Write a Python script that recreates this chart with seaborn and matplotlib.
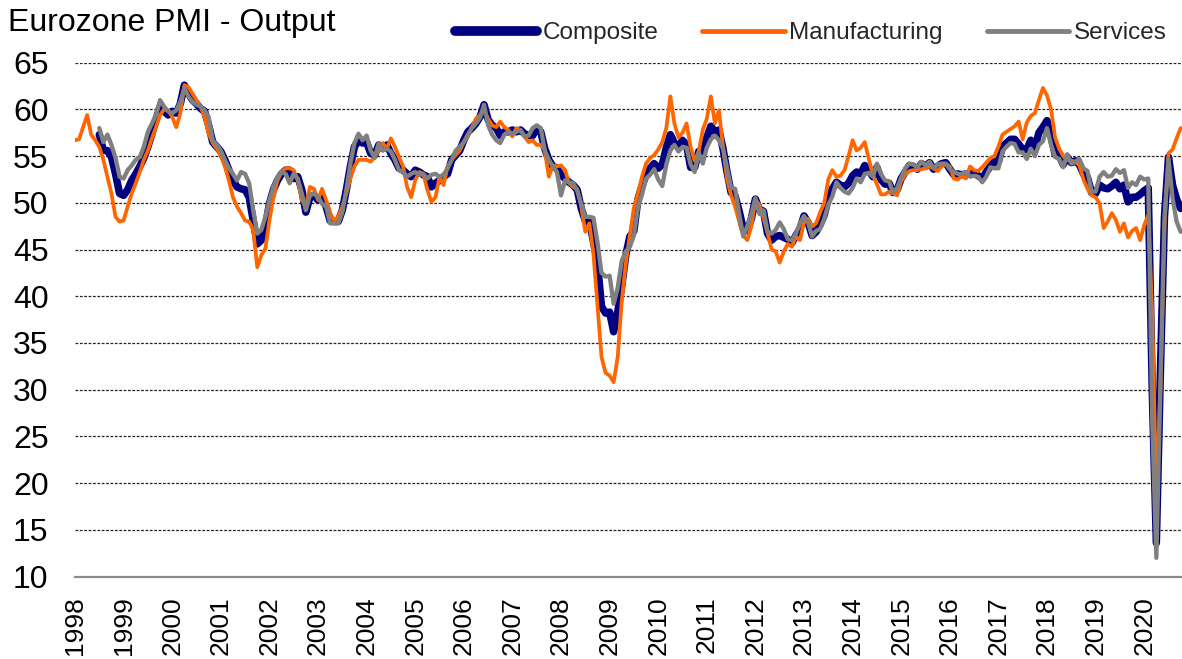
import matplotlib
matplotlib.use("Agg")
import matplotlib.pyplot as plt
from matplotlib.lines import Line2D
import pandas as pd
import seaborn as sns

# ---------------- data (monthly index values) ----------------
# Manufacturing output: Jan 1998 - Oct 2020
manufacturing = [
    56.7, 56.8, 58.1, 59.4, 57.3, 56.7, 56.0, 54.6, 52.8, 51.0, 48.5, 48.0,  # 1998
    48.1, 49.6, 51.0, 52.1, 53.3, 54.6, 55.6, 56.9, 58.1, 59.4, 60.0, 59.9,  # 1999
    59.2, 58.1, 59.6, 62.6, 62.4, 61.7, 61.0, 60.3, 59.2, 57.4, 56.4, 55.8,  # 2000
    55.1, 53.9, 52.4, 50.6, 49.6, 48.9, 48.1, 48.0, 47.1, 43.1, 44.4, 45.1,  # 2001
    48.1, 50.6, 52.4, 53.3, 53.7, 53.7, 53.5, 52.4, 50.3, 49.6, 51.7, 51.5,  # 2002
    50.3, 51.5, 50.3, 48.9, 48.1, 48.5, 49.6, 51.0, 52.6, 53.9, 54.6, 54.6,  # 2003
    54.6, 54.4, 54.9, 55.6, 56.4, 55.8, 56.9, 56.0, 54.9, 53.9, 51.7, 50.6,  # 2004
    52.4, 53.3, 53.1, 51.4, 50.1, 50.6, 52.8, 51.9, 53.9, 54.6, 55.1, 55.6,  # 2005
    56.5, 57.1, 58.1, 59.0, 59.4, 59.9, 59.0, 58.3, 58.1, 58.7, 58.1, 57.8,  # 2006
    57.1, 58.0, 57.8, 57.1, 56.5, 56.7, 56.2, 56.2, 55.6, 52.8, 54.0, 53.9,  # 2007
    54.0, 53.5, 52.1, 51.7, 51.5, 49.6, 46.9, 47.8, 44.6, 39.0, 33.5, 31.8,  # 2008
    31.5, 30.8, 33.5, 39.5, 43.5, 46.5, 49.5, 51.0, 52.8, 54.2, 54.8, 55.1,  # 2009
    55.7, 56.5, 58.0, 61.4, 58.5, 57.0, 57.5, 58.5, 56.0, 54.5, 55.5, 57.8,  # 2010
    59.0, 61.4, 58.5, 59.9, 56.0, 52.5, 50.8, 49.6, 48.0, 46.5, 46.0, 47.5,  # 2011
    50.3, 49.8, 48.4, 46.8, 45.0, 44.8, 43.6, 44.8, 45.6, 45.3, 46.4, 46.0,  # 2012
    47.9, 48.3, 47.5, 47.8, 49.0, 50.0, 52.5, 53.5, 52.8, 52.9, 53.5, 55.0,  # 2013
    56.7, 55.6, 55.9, 56.5, 54.7, 53.0, 52.0, 50.9, 50.9, 51.2, 51.0, 50.8,  # 2014
    52.3, 53.0, 53.4, 53.5, 53.5, 53.6, 53.7, 53.9, 53.7, 53.4, 53.9, 54.2,  # 2015
    53.9, 52.6, 52.5, 52.9, 52.6, 53.9, 53.5, 53.4, 53.8, 54.3, 54.8, 55.0,  # 2016
    56.0, 57.3, 57.6, 57.9, 58.2, 58.7, 56.8, 58.6, 59.3, 59.6, 61.0, 62.3,  # 2017
    61.5, 60.0, 57.0, 55.8, 55.0, 54.6, 54.5, 54.4, 54.0, 52.5, 51.5, 50.8,  # 2018
    50.6, 49.9, 47.3, 48.0, 48.9, 48.2, 46.9, 47.8, 46.3, 47.0, 47.3, 46.0,  # 2019
    47.6, 48.7, 38.0, 18.1, 30.0, 47.5, 55.3, 55.7, 56.9, 58.0,              # 2020
]

# Composite output: Jul 1998 - Oct 2020
composite = [
    57.3, 55.6, 55.6, 54.9, 53.1, 51.0,                                      # 1998 H2
    50.8, 51.4, 52.4, 53.1, 53.9, 54.8, 56.0, 57.4, 58.9, 60.3, 59.8, 59.4,  # 1999
    59.8, 59.6, 60.6, 62.6, 61.7, 61.0, 60.6, 60.1, 59.8, 58.3, 56.5, 56.0,  # 2000
    55.5, 54.6, 53.5, 52.4, 51.7, 51.5, 51.4, 50.6, 48.1, 45.6, 46.0, 47.4,  # 2001
    49.9, 51.4, 52.4, 53.1, 53.5, 53.5, 52.6, 52.8, 51.4, 49.0, 50.6, 50.8,  # 2002
    50.3, 50.5, 49.6, 48.1, 48.0, 48.0, 49.2, 51.4, 53.9, 56.0, 56.7, 56.4,  # 2003
    56.5, 55.3, 55.1, 56.2, 55.8, 56.2, 55.3, 54.6, 53.7, 53.5, 53.1, 52.8,  # 2004
    53.5, 53.3, 53.0, 52.8, 51.7, 52.1, 52.4, 52.8, 53.1, 54.6, 55.1, 55.6,  # 2005
    56.7, 57.6, 58.0, 58.5, 59.2, 60.5, 58.9, 58.3, 58.0, 57.2, 57.6, 57.6,  # 2006
    57.8, 57.6, 57.8, 57.4, 57.2, 57.2, 58.0, 57.6, 55.8, 54.6, 53.9, 53.7,  # 2007
    53.0, 52.6, 52.2, 51.9, 51.4, 49.4, 48.1, 48.0, 45.9, 43.6, 38.9, 38.2,  # 2008
    38.3, 36.2, 38.3, 41.1, 44.4, 46.4, 47.0, 50.4, 51.8, 53.0, 53.7, 54.2,  # 2009
    53.7, 54.1, 55.9, 57.3, 56.4, 56.0, 56.7, 56.2, 53.8, 53.8, 55.5, 55.5,  # 2010
    57.0, 58.2, 57.6, 57.8, 55.8, 53.3, 51.1, 50.7, 49.1, 47.2, 47.0, 48.3,  # 2011
    50.4, 49.3, 49.1, 46.7, 46.0, 46.4, 46.5, 46.3, 46.1, 45.7, 46.5, 47.2,  # 2012
    48.6, 47.9, 46.5, 46.9, 47.7, 48.7, 50.5, 51.5, 52.2, 51.9, 51.7, 52.1,  # 2013
    52.9, 53.3, 53.1, 54.0, 53.5, 52.8, 53.8, 52.5, 52.0, 52.1, 51.1, 51.4,  # 2014
    52.6, 53.3, 54.0, 53.9, 53.6, 54.2, 53.9, 54.3, 53.6, 53.9, 54.2, 54.3,  # 2015
    53.6, 53.0, 53.1, 53.0, 53.1, 53.1, 53.2, 52.9, 52.6, 53.3, 53.9, 54.4,  # 2016
    54.4, 56.0, 56.4, 56.8, 56.8, 56.3, 55.7, 55.7, 56.7, 55.9, 57.5, 58.1,  # 2017
    58.8, 57.1, 55.2, 55.1, 54.1, 54.9, 54.3, 54.5, 54.1, 53.1, 52.7, 51.1,  # 2018
    51.0, 51.9, 51.6, 51.5, 51.8, 52.2, 51.5, 51.9, 50.1, 50.6, 50.6, 50.9,  # 2019
    51.3, 51.6, 29.7, 13.6, 31.9, 48.5, 54.9, 51.9, 50.4, 49.4,              # 2020
]

# Services activity: Jul 1998 - Oct 2020
services = [
    58.0, 56.5, 57.3, 56.2, 54.8, 52.8,                                      # 1998 H2
    52.6, 53.5, 54.0, 54.6, 54.9, 56.0, 57.6, 58.5, 59.4, 61.0, 60.3, 59.8,  # 1999
    59.6, 59.9, 60.8, 62.3, 61.4, 60.8, 60.5, 60.3, 59.9, 59.2, 56.7, 56.2,  # 2000
    55.6, 54.6, 53.7, 53.1, 52.4, 53.3, 53.1, 52.1, 49.2, 46.7, 47.1, 48.5,  # 2001
    50.3, 51.7, 52.8, 53.3, 53.1, 52.1, 53.1, 52.6, 51.0, 49.2, 50.8, 51.0,  # 2002
    50.6, 49.9, 49.6, 47.8, 47.8, 47.8, 49.0, 51.4, 54.2, 56.4, 57.4, 56.7,  # 2003
    57.2, 55.6, 54.8, 56.4, 55.6, 55.8, 55.5, 54.6, 53.5, 53.3, 52.8, 53.1,  # 2004
    53.3, 53.0, 53.1, 52.6, 53.0, 53.1, 52.8, 53.0, 53.7, 54.6, 55.6, 56.0,  # 2005
    56.5, 57.3, 58.0, 58.5, 59.1, 60.5, 58.3, 57.3, 56.7, 56.4, 57.3, 57.6,  # 2006
    57.4, 57.6, 57.8, 57.1, 57.2, 58.0, 58.3, 58.0, 55.6, 54.6, 53.9, 53.3,  # 2007
    50.8, 52.4, 52.2, 52.1, 51.3, 49.9, 48.5, 48.5, 48.4, 45.8, 42.5, 42.1,  # 2008
    42.2, 39.2, 40.9, 43.8, 44.8, 45.3, 46.5, 49.5, 50.9, 52.6, 53.0, 53.6,  # 2009
    52.5, 51.8, 54.1, 55.6, 56.2, 55.5, 56.0, 55.9, 54.1, 53.3, 55.4, 54.2,  # 2010
    55.9, 56.8, 57.2, 56.7, 55.8, 53.7, 51.6, 51.5, 48.8, 46.4, 47.5, 48.8,  # 2011
    50.5, 48.8, 49.2, 46.9, 46.7, 47.1, 47.9, 47.2, 46.1, 46.0, 46.7, 47.8,  # 2012
    48.6, 47.9, 46.4, 47.0, 47.2, 48.3, 49.8, 50.7, 52.2, 51.6, 51.2, 51.0,  # 2013
    51.6, 52.6, 52.2, 53.1, 53.2, 52.8, 54.2, 53.1, 52.4, 52.3, 51.1, 51.6,  # 2014
    52.7, 53.7, 54.2, 54.1, 53.8, 54.4, 54.0, 54.4, 53.7, 54.1, 54.2, 54.2,  # 2015
    53.6, 53.3, 53.1, 53.1, 53.3, 52.8, 52.9, 52.8, 52.2, 52.8, 53.8, 53.7,  # 2016
    53.7, 55.5, 56.0, 56.4, 56.3, 55.4, 55.4, 54.7, 55.8, 55.0, 56.2, 56.6,  # 2017
    58.0, 56.2, 54.9, 54.7, 53.8, 55.2, 54.2, 54.4, 54.7, 53.7, 53.4, 51.2,  # 2018
    51.2, 52.8, 53.3, 52.8, 52.9, 53.6, 53.2, 53.5, 51.6, 52.2, 51.9, 52.8,  # 2019
    52.5, 52.6, 26.4, 12.0, 30.5, 48.3, 54.7, 50.5, 48.0, 46.9,              # 2020
]

series_names = ["Composite", "Manufacturing", "Services"]
year_ticks = list(range(1998, 2021))
y_ticks = [10, 15, 20, 25, 30, 35, 40, 45, 50, 55, 60, 65]
title = "Eurozone PMI - Output"


def month_axis(start_year, start_month, n):
    return [start_year + (start_month - 1 + i) / 12.0 for i in range(n)]


df_m = pd.DataFrame({"t": month_axis(1998, 1, len(manufacturing)), "v": manufacturing})
df_c = pd.DataFrame({"t": month_axis(1998, 7, len(composite)), "v": composite})
df_s = pd.DataFrame({"t": month_axis(1998, 7, len(services)), "v": services})

# ---------------- styling ----------------
sns.set_theme(style="white")
plt.rcParams["font.family"] = ["Liberation Sans", "DejaVu Sans"]

W, H = 1182, 659
fig = plt.figure(figsize=(W / 100, H / 100), dpi=100)
ax = fig.add_axes([75 / W, 1 - 576.5 / H, 1 - 75 / W, (576.5 - 62.7) / H])

c_comp = "#000080"
c_mfg = "#FF6600"
c_serv = "#808080"

line_kw = dict(solid_joinstyle="round", solid_capstyle="round")
sns.lineplot(data=df_c, x="t", y="v", ax=ax, color=c_comp, linewidth=5.4,
             legend=False, zorder=3, sort=False, **line_kw)
sns.lineplot(data=df_m, x="t", y="v", ax=ax, color=c_mfg, linewidth=2.7,
             legend=False, zorder=4, sort=False, **line_kw)
sns.lineplot(data=df_s, x="t", y="v", ax=ax, color=c_serv, linewidth=3.1,
             legend=False, zorder=5, sort=False, **line_kw)

ax.set_xlim(1998, 1998 + (W - 75) / 48.6)
ax.set_ylim(10, 65)
ax.set_xlabel("")
ax.set_ylabel("")

ax.set_yticks(y_ticks)
ax.set_yticklabels([str(v) for v in y_ticks])
ax.set_xticks(year_ticks)
ax.set_xticklabels([str(y) for y in year_ticks], rotation=90)

ax.yaxis.grid(True, linestyle=(0, (2.2, 1.3)), color="#222222", linewidth=0.9)
ax.xaxis.grid(False)
ax.set_axisbelow(True)

for s in ["left", "right", "top"]:
    ax.spines[s].set_visible(False)
ax.spines["bottom"].set_color("#8c8c8c")
ax.spines["bottom"].set_linewidth(1.6)
ax.spines["bottom"].set_zorder(6)

ax.tick_params(axis="y", length=0, pad=19, labelsize=23, colors="black")
ax.tick_params(axis="x", direction="out", length=6, width=1.3, color="#8c8c8c",
               pad=8, labelsize=19, labelcolor="black")

fig.text(8 / W, 1 - 23 / H, title, fontsize=23, ha="left", va="center",
         color="black")

handles = [
    Line2D([0], [0], color=c_comp, lw=7, solid_capstyle="round"),
    Line2D([0], [0], color=c_mfg, lw=3.5, solid_capstyle="round"),
    Line2D([0], [0], color=c_serv, lw=3.5, solid_capstyle="round"),
]
fig.legend(handles, series_names, loc="center right",
           bbox_to_anchor=(1167 / W, 1 - 33 / H), ncol=3, frameon=False,
           fontsize=17.5, handlelength=3.4, handletextpad=0.2,
           columnspacing=1.8, borderpad=0, borderaxespad=0)

fig.savefig("out.png", dpi=100)
